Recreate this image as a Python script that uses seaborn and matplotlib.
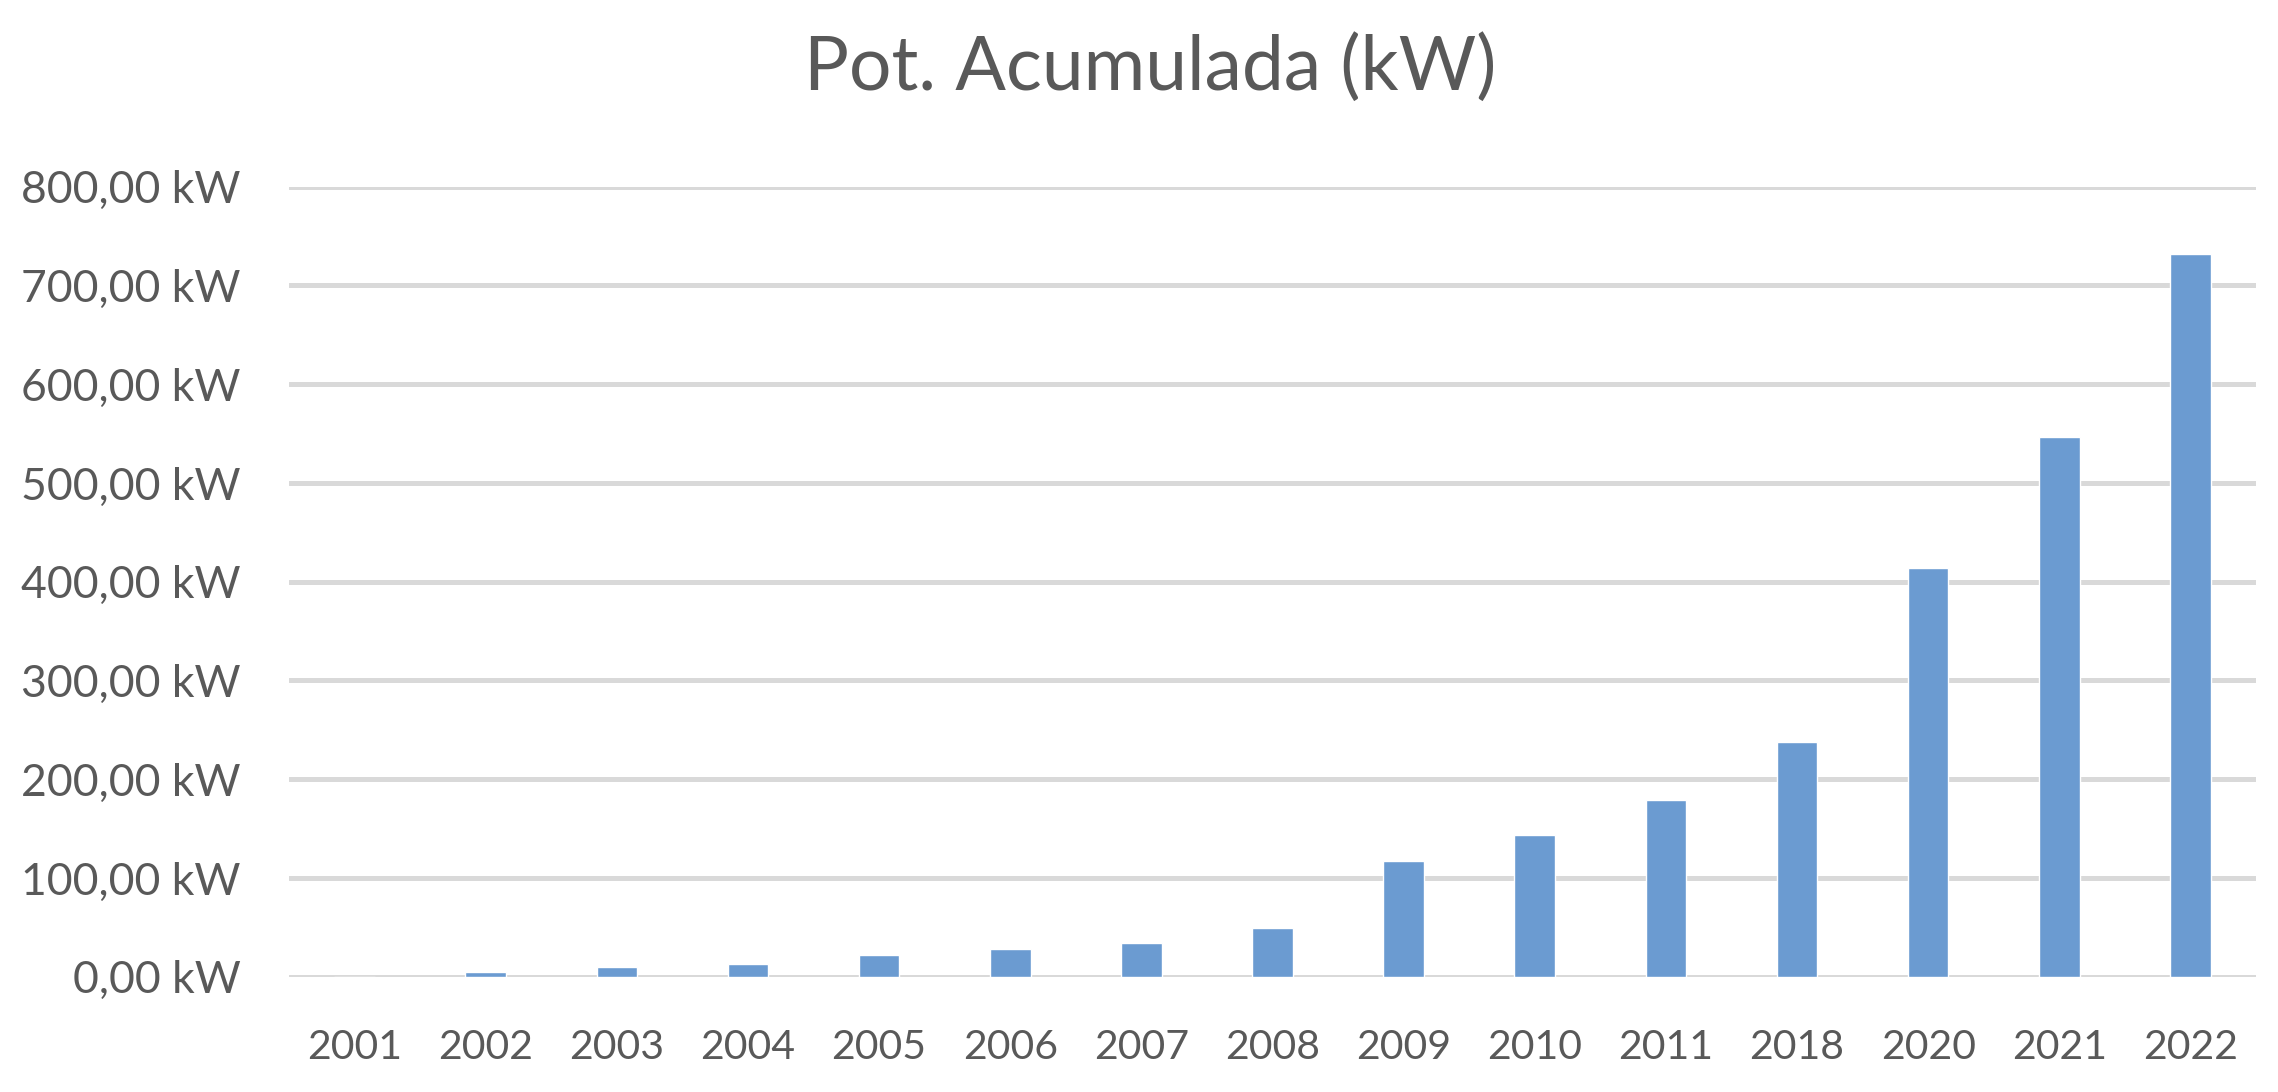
import matplotlib
matplotlib.use("Agg")
import matplotlib.pyplot as plt
import seaborn as sns
import pandas as pd
from matplotlib.ticker import FuncFormatter, MultipleLocator

years = ["2001", "2002", "2003", "2004", "2005", "2006", "2007", "2008",
         "2009", "2010", "2011", "2018", "2020", "2021", "2022"]
power_kw = [0, 4.5, 10, 13, 22, 28, 34, 49, 117, 144, 179, 238, 414, 547, 732]
title = "Pot. Acumulada (kW)"

sns.set_theme(style="white")
plt.rcParams['font.family'] = ['Lato', 'DejaVu Sans']

df = pd.DataFrame({"year": years, "kw": power_kw})

fig = plt.figure(figsize=(22.78, 10.92), dpi=100)
ax = fig.add_axes([289/2278, 1 - 976.7/1092, (2256-289)/2278, (976.7-186.7)/1092])

ax.set_axisbelow(True)
ax.yaxis.grid(True, color="#D9D9D9", linewidth=3.6)
sns.barplot(data=df, x="year", y="kw", color="#6B9BD1", width=0.31,
            saturation=1, ax=ax, zorder=3)

ax.set_ylim(0, 800)
ax.set_xlim(-0.5, len(years) - 0.5)
ax.yaxis.set_major_locator(MultipleLocator(100))
ax.yaxis.set_major_formatter(FuncFormatter(lambda v, p: f"{v:.2f}".replace(".", ",") + " kW"))
for s in ax.spines.values():
    s.set_visible(False)
ax.set_xlabel("")
ax.set_ylabel("")
ax.tick_params(axis="y", length=0, pad=35, labelsize=32, labelcolor="#595959")
ax.tick_params(axis="x", length=0, pad=38, labelsize=29.5, labelcolor="#595959")

fig.text(1150/2278, 1 - 68/1092, title, ha="center", va="center",
         fontsize=54, color="#595959")

fig.savefig("out.png", dpi=100, facecolor="white")
